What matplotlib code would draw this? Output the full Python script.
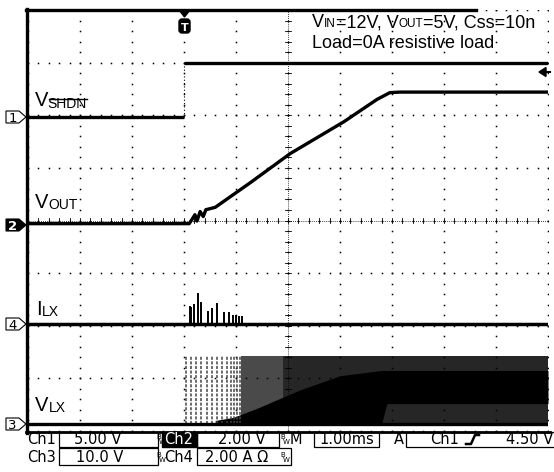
import matplotlib
matplotlib.use("Agg")
import matplotlib.pyplot as plt
from matplotlib.transforms import Affine2D
from matplotlib.patches import Polygon, Rectangle, FancyBboxPatch
from matplotlib.lines import Line2D
import numpy as np

W, H = 554, 472
SANS = "Liberation Sans"
SCOPE = "DejaVu Sans"

# scope setup: volts (amps) per div and ground level in div from bottom
ch1_scale, ch1_gnd = 5.0, 5.97
ch2_scale, ch2_gnd = 2.0, 3.94
ch3_scale, ch3_gnd = 10.0, 0.14
ch4_scale, ch4_gnd = 2.0, 2.04
ms_div = 1.0
trig_div = 3.0

# Ch1: V_SHDN (ms, V)
shdn_t_low = [-3.0, 0.0]
shdn_v_low = [0.0, 0.0]
shdn_t_high = [0.0, 7.0]
shdn_v_high = [5.1, 5.1]

# Ch2: V_OUT soft start (ms, V)
vout_t = [-3.0, 0.10, 0.15, 0.21, 0.25, 0.31, 0.37, 0.42, 0.60, 1.27, 2.04, 3.08, 3.71, 3.96, 4.15, 7.0]
vout_v = [0.0, 0.0, 0.15, 0.34, 0.10, 0.46, 0.27, 0.53, 0.62, 1.55, 2.66, 3.88, 4.72, 4.98, 5.0, 5.0]

# Ch4: I_LX (ms, A)
ilx_t = [-3.0, 7.0]
ilx_i = [0.0, 0.0]
spike_t = [0.12, 0.13, 0.19, 0.27, 0.33, 0.46, 0.54, 0.63, 0.77, 0.87, 0.94, 1.00, 1.06, 1.12]
spike_i = [0.63, 0.60, 0.71, 1.13, 0.79, 0.44, 0.56, 0.75, 0.41, 0.41, 0.29, 0.29, 0.27, 0.25]

# Ch3: V_LX (ms, V)
vlx_t = [-3.0, 7.0]
vlx_v = [0.0, 0.0]
pulse_t = [0.04, 0.13, 0.23, 0.33, 0.44, 0.54, 0.63, 0.73, 0.83, 0.90, 0.96, 1.02, 1.08]
vlx_high = 12.8
sparse_t = [1.1, 1.9]
dense_t = [1.9, 7.0]
solid_t = [0.6, 0.95, 1.45, 2.2, 3.0, 3.8, 3.9, 7.0]
solid_hi = [0.6, 1.2, 3.1, 6.3, 9.1, 10.1, 10.1, 10.1]
solid_lo = [0.0, 0.0, 0.0, 0.0, 0.0, 0.0, 3.8, 3.8]


def tx(t):
    return trig_div + np.asarray(t, dtype=float) / ms_div


def vy(v, scale, gnd):
    return gnd + np.asarray(v, dtype=float) / scale


fig = plt.figure(figsize=(W / 100, H / 100), dpi=100)
PX = Affine2D().scale(1, -1).translate(0, H)
r = fig.canvas.get_renderer()

ax = fig.add_axes([28 / W, 1 - 431 / H, 520 / W, 421 / H])
ax.set_xlim(0, 10)
ax.set_ylim(0, 8)
ax.axis("off")

# graticule dots
for i in range(11):
    yy = np.arange(0, 8.01, 0.2)
    ax.plot(np.full_like(yy, i), yy, ls="none", marker="s", ms=1.1, mew=0, color="k")
for j in range(9):
    xx = np.arange(0, 10.01, 0.2)
    ax.plot(xx, np.full_like(xx, j), ls="none", marker="s", ms=1.1, mew=0, color="k")
# centre cross with ticks
ax.plot([5, 5], [0, 8], color="k", lw=0.6, ls=(0, (1, 1.5)))
ax.plot([0, 10], [4, 4], color="k", lw=0.6, ls=(0, (1, 1.5)))
for yy in np.arange(0, 8.01, 0.2):
    ax.plot([4.95, 5.05], [yy, yy], color="k", lw=0.6)
for xx in np.arange(0, 10.01, 0.2):
    ax.plot([xx, xx], [3.95, 4.05], color="k", lw=0.6)

# Ch3 V_LX
for p in pulse_t:
    ax.plot([tx(p), tx(p)], [ch3_gnd, vy(vlx_high, ch3_scale, ch3_gnd)],
            color="#444444", lw=1.1, ls=(0, (2, 1)))
ax.fill_between(tx(sparse_t), ch3_gnd, vy(vlx_high, ch3_scale, ch3_gnd), color="#4a4a4a", lw=0)
ax.fill_between(tx(dense_t), ch3_gnd, vy(vlx_high, ch3_scale, ch3_gnd), color="#262626", lw=0)
ax.fill_between(tx(solid_t), vy(solid_lo, ch3_scale, ch3_gnd), vy(solid_hi, ch3_scale, ch3_gnd),
                color="k", lw=0)
ax.plot(tx(vlx_t), vy(vlx_v, ch3_scale, ch3_gnd), color="k", lw=2.4)

# Ch4 I_LX
ax.plot(tx(ilx_t), vy(ilx_i, ch4_scale, ch4_gnd), color="k", lw=2.5)
for t, i in zip(spike_t, spike_i):
    ax.plot([tx(t), tx(t)], [ch4_gnd, vy(i, ch4_scale, ch4_gnd)], color="k", lw=1.4)

# Ch2 V_OUT
ax.plot(tx(vout_t), vy(vout_v, ch2_scale, ch2_gnd), color="k", lw=2.4)

# Ch1 V_SHDN
ax.plot(tx(shdn_t_low), vy(shdn_v_low, ch1_scale, ch1_gnd), color="k", lw=2.4, solid_capstyle="butt")
ax.plot(tx(shdn_t_high), vy(shdn_v_high, ch1_scale, ch1_gnd), color="k", lw=2.4, solid_capstyle="butt")
ax.plot([tx(0), tx(0)], [vy(0, ch1_scale, ch1_gnd), vy(5.1, ch1_scale, ch1_gnd)],
        color="k", lw=0.8, ls=(0, (1, 2)))

# frame
fig.add_artist(Line2D([27, 27], [9, 433], color="k", lw=2.4, transform=PX))
fig.add_artist(Line2D([26, 476], [10, 10], color="k", lw=2.4, transform=PX))
fig.add_artist(Line2D([26, 550], [431.5, 431.5], color="k", lw=2.0, transform=PX))

# trigger marker on top, level marker on right
fig.add_artist(Polygon([[179, 10], [190, 10], [184.5, 17]], closed=True, color="k", transform=PX))
fig.add_artist(FancyBboxPatch((179, 19), 11, 14, boxstyle="round,pad=0,rounding_size=3",
                              fc="k", ec="k", transform=PX))
fig.text(184.5, 31, "T", color="w", fontsize=8, fontweight="bold", family=SCOPE,
         ha="center", va="baseline", transform=PX)
fig.add_artist(Polygon([[539, 72], [546, 67.5], [546, 76.5]], closed=True, color="k", transform=PX))
fig.add_artist(Line2D([545, 550], [72, 72], color="k", lw=1.5, transform=PX))


# channel markers
def marker(y, label, filled=False):
    pts = [[6, y - 6], [19, y - 6], [26, y], [19, y + 6], [6, y + 6]]
    fig.add_artist(Polygon(pts, closed=True, fc="k" if filled else "w", ec="k", lw=0.8, transform=PX))
    fig.text(12.5, y + 5, label, color="w" if filled else "k", fontsize=9.5,
             fontweight="bold" if filled else "normal", family=SCOPE, ha="center", va="baseline",
             transform=PX)


marker(117, "1")
marker(225, "2", filled=True)
marker(424, "3")
marker(324, "4")


# labels with small subscripts
def rich(x, y, parts, family=SANS):
    for s, size, dy in parts:
        t = fig.text(x, y + dy, s, fontsize=size, family=family, va="baseline", ha="left", transform=PX)
        bb = t.get_window_extent(r)
        x += bb.width
    return t


rich(35, 106, [("V", 14.5, 0)])
sub = rich(47.5, 108, [("SHDN", 10, 0)])
bb = sub.get_window_extent(r)
fig.add_artist(Line2D([bb.x0 + 1, bb.x1], [H - bb.y1 + 2, H - bb.y1 + 2], color="k", lw=1.0, transform=PX))
rich(35, 208, [("V", 14.5, 0), ("OUT", 10, 1)])
rich(36, 315, [("I", 14.5, 0), ("LX", 10, 1)])
rich(35, 411, [("V", 14.5, 0), ("LX", 10, 1)])

rich(312, 27, [("V", 13, 0), ("IN", 8.5, 0), ("=12V, V", 13, 0), ("OUT", 8.5, 0), ("=5V, Css=10n", 13, 0)])
rich(312, 48, [("Load=0A resistive load", 13, 0)])


# status bar
def box(x0, x1, y0, y1):
    fig.add_artist(Rectangle((x0, y0), x1 - x0, y1 - y0, fc="none", ec="k", lw=0.9, transform=PX))


def stxt(x, y, s, color="k", ha="left"):
    fig.text(x, y, s, fontsize=10.5, family=SCOPE, color=color, ha=ha, va="baseline", transform=PX)


def bw(x, y):
    fig.text(x, y - 5, "B", fontsize=5, family=SCOPE, ha="left", va="baseline", transform=PX)
    fig.text(x + 2.5, y, "W", fontsize=5, family=SCOPE, ha="left", va="baseline", transform=PX)


stxt(27, 444, "Ch1")
box(59, 158, 432, 447)
stxt(98, 444, "5.00 V", ha="center")
bw(156, 444)
fig.add_artist(Rectangle((162, 432), 35, 15, fc="k", ec="k", transform=PX))
stxt(164, 444, "Ch2", color="w")
box(197, 279, 432, 447)
stxt(242, 444, "2.00 V", ha="center")
bw(280, 444)
stxt(290, 444, "M")
box(314, 379, 432, 447)
stxt(347, 444, "1.00ms", ha="center")
stxt(394, 444, "A")
box(406, 556, 432, 447)
stxt(430, 444, "Ch1")
fig.add_artist(Line2D([466, 471, 475, 479], [444, 444, 435, 435], color="k", lw=1.8, transform=PX))
stxt(553, 444, "4.50 V", ha="right")

stxt(27, 462, "Ch3")
box(59, 158, 448, 465)
stxt(100, 462, "10.0 V", ha="center")
bw(156, 462)
stxt(164, 462, "Ch4")
box(197, 291, 448, 465)
stxt(205, 462, "2.00 A Ω")
bw(280, 462)

fig.savefig("out.png", dpi=100)
